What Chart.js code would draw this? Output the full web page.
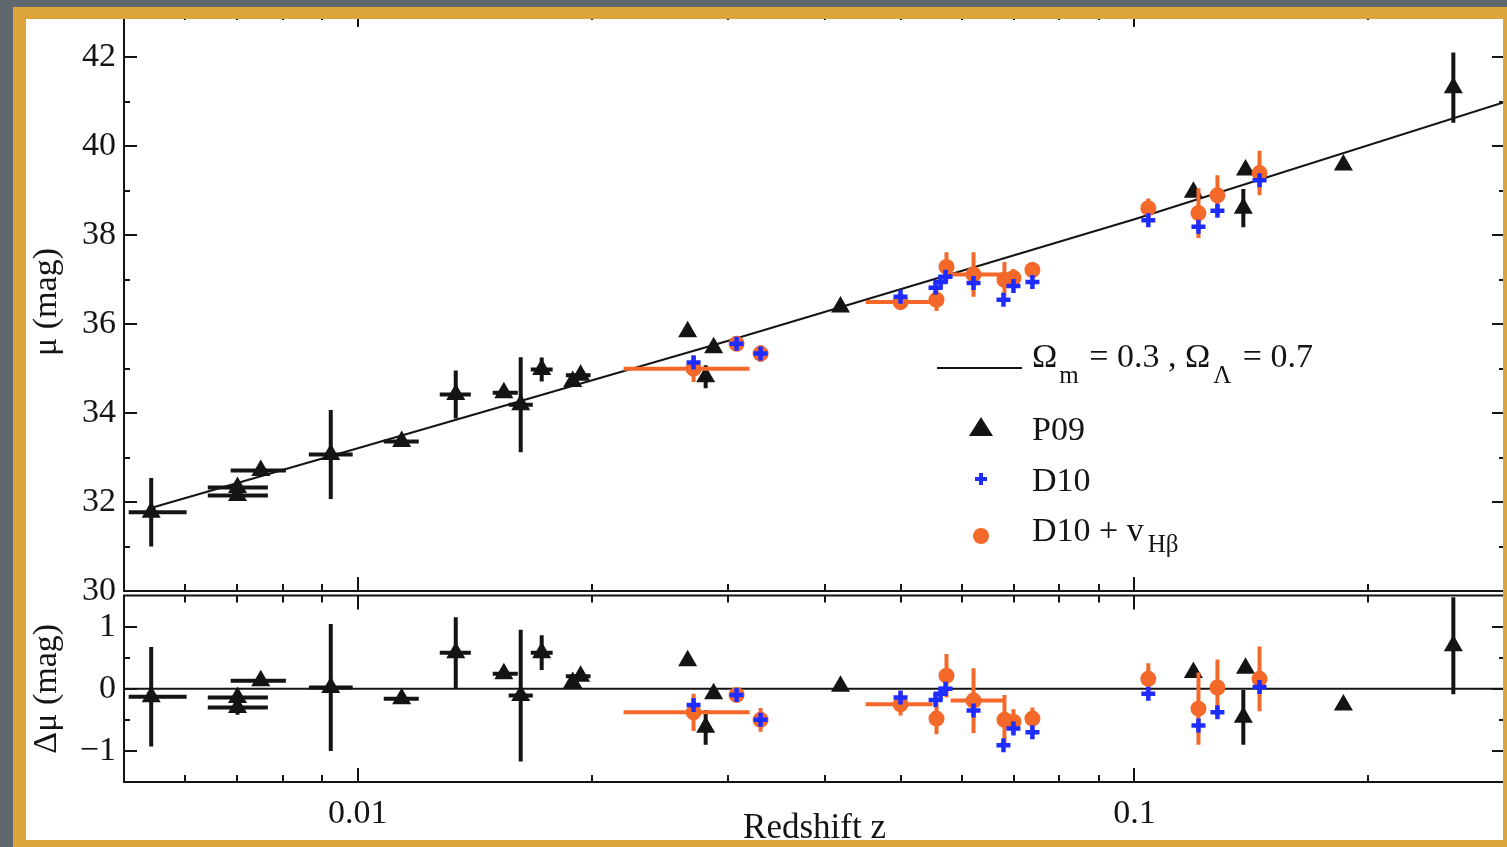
<!DOCTYPE html>
<html lang="en">
<head>
<meta charset="UTF-8">
<title>Hubble diagram - P09 / D10</title>
<style>
    html, body {
        margin: 0;
        padding: 0;
    }
    body {
        width: 1507px;
        height: 847px;
        overflow: hidden;
        position: relative;
        background: #fff;
    }
    canvas {
        position: absolute;
        left: 0;
    }
    #muChart { top: 0; }
    #resChart { top: 584px; }
    /* gold picture frame over the slate background */
    .frame {
        position: absolute;
        left: 13px;
        top: 7px;
        width: 1503px;
        height: 846px;
        box-sizing: border-box;
        border: 13px solid #dba53b;
        border-top-width: 12px;
        box-shadow: 0 0 0 60px #60676f;
        pointer-events: none;
    }
</style>
</head>
<body>
<canvas id="muChart" width="1520" height="610"></canvas>
<canvas id="resChart" width="1520" height="263"></canvas>
<div class="frame"></div>

<script src="https://cdn.jsdelivr.net/npm/chart.js"></script>
<script>
// ---- values ----

// model curve, Omega_m = 0.3, Omega_L = 0.7
const modelZ  = [0.0054, 0.01, 0.03, 0.1, 0.3];
const modelMu = [31.86, 33.21, 35.63, 38.36, 41.0];
const zeroZ   = [0.005, 0.3];
const zeroDmu = [0, 0];

// P09 (black triangles)
const p09Z      = [0.00542, 0.0070, 0.0070, 0.0075, 0.00923, 0.01139, 0.01337, 0.01542, 0.01621, 0.01725, 0.01891, 0.01936, 0.02659, 0.02872, 0.02805, 0.04183, 0.1191, 0.1390, 0.1381, 0.1858, 0.2574];
const p09Mu     = [31.77, 32.33, 32.15, 32.71, 33.07, 33.36, 34.42, 34.46, 34.19, 34.98, 34.71, 34.85, 35.83, 35.47, 34.82, 36.39, 38.97, 39.47, 38.61, 39.58, 41.32];
const p09MuErr  = [0.77, 0, 0.10, 0, 1.00, 0, 0.54, 0, 1.07, 0.27, 0, 0, 0, 0, 0.26, 0, 0, 0, 0.43, 0, 0.79];
const p09Dmu    = [-0.13, -0.14, -0.30, 0.13, 0.02, -0.16, 0.58, 0.24, -0.11, 0.58, 0.10, 0.20, 0.45, -0.08, -0.62, 0.04, 0.26, 0.33, -0.46, -0.26, 0.69];
const p09DmuErr = [0.80, 0, 0.12, 0, 1.02, 0, 0.57, 0, 1.06, 0.28, 0, 0, 0, 0, 0.28, 0, 0, 0, 0.44, 0, 0.78];
const p09ZLo    = [0.00507, 0.00641, 0.00641, 0.00686, 0.00865, 0.0108, 0.01275, 0.01492, 0.01564, 0.0167, null, 0.01853, null, null, null, null, null, null, null, null, null];
const p09ZHi    = [0.00602, 0.00766, 0.00766, 0.00808, 0.00985, 0.01198, 0.01398, 0.01607, 0.0168, 0.01782, null, 0.01994, null, null, null, null, null, null, null, null, null];

// D10 + v_Hbeta (orange circles)
const vZ      = [0.02706, 0.03074, 0.03301, 0.04998, 0.05561, 0.05728, 0.06206, 0.06802, 0.06986, 0.0739, 0.1042, 0.1209, 0.1279, 0.1449];
const vMu     = [35.00, 35.56, 35.34, 36.50, 36.55, 37.29, 37.12, 37.00, 37.04, 37.22, 38.61, 38.50, 38.90, 39.40];
const vMuErr  = [0.30, 0, 0.19, 0.18, 0.25, 0.33, 0.50, 0.40, 0.20, 0.18, 0.22, 0.56, 0.45, 0.50];
const vDmu    = [-0.38, -0.10, -0.50, -0.25, -0.48, 0.21, -0.19, -0.50, -0.53, -0.48, 0.16, -0.32, 0.02, 0.16];
const vDmuErr = [0.30, 0, 0.19, 0.18, 0.25, 0.35, 0.52, 0.40, 0.20, 0.18, 0.25, 0.58, 0.45, 0.52];
const vZLo    = [0.02199, null, null, 0.04507, null, null, 0.05798, null, null, null, null, null, null, null];
const vZHi    = [0.03195, null, null, 0.05495, null, null, 0.06782, null, null, null, null, null, null, null];

// D10 (blue plus)
const dZ   = [0.02706, 0.03074, 0.03301, 0.04998, 0.05545, 0.05628, 0.05712, 0.06206, 0.06782, 0.06986, 0.0739, 0.1042, 0.1209, 0.1279, 0.1449];
const dMu  = [35.14, 35.56, 35.34, 36.62, 36.82, 36.95, 37.07, 36.93, 36.55, 36.86, 36.95, 38.34, 38.19, 38.55, 39.24];
const dDmu = [-0.26, -0.10, -0.50, -0.14, -0.18, -0.08, 0.00, -0.35, -0.91, -0.64, -0.70, -0.08, -0.59, -0.38, 0.03];

// axes
const xMajor       = [0.01, 0.1];
const xMajorLabels = ['0.01', '0.1'];
const xMinor       = [0.006, 0.007, 0.008, 0.009, 0.02, 0.03, 0.04, 0.05, 0.06, 0.07, 0.08, 0.09, 0.2];
const muTicks  = [30, 32, 34, 36, 38, 40, 42];
const muLabels = ['30', '32', '34', '36', '38', '40', '42'];
const muMinor  = [31, 33, 35, 37, 39, 41];
const dmuTicks  = [-1, 0, 1];
const dmuLabels = ['\u22121', '0', '1'];
const dmuMinor  = [-0.5, 0.5];

const INK = '#141414';
const BLUE = '#1f2cff';
const ORANGE = '#f4692a';
const SERIF = '"Liberation Serif", "Times New Roman", serif';

Chart.defaults.font.family = SERIF;
Chart.defaults.color = INK;

// ---- helpers ----
function pts(zs, vs) {
    return zs.map((z, i) => ({ x: z, y: vs[i] }));
}

// vertical error bars as broken line segments
function vBars(zs, vs, es) {
    const out = [];
    zs.forEach((z, i) => {
        if (!es[i]) return;
        out.push({ x: z, y: vs[i] - es[i] }, { x: z, y: vs[i] + es[i] }, { x: z, y: null });
    });
    return out;
}

// horizontal (redshift bin) bars
function hBars(vs, lo, hi) {
    const out = [];
    vs.forEach((v, i) => {
        if (lo[i] == null) return;
        out.push({ x: lo[i], y: v }, { x: hi[i], y: v }, { x: hi[i], y: null });
    });
    return out;
}

function bar(data, color, order) {
    return { data: data, showLine: true, spanGaps: false, borderColor: color, borderWidth: 4,
             borderCapStyle: 'butt', pointRadius: 0, order: order };
}

function panelDatasets(lineZ, lineV, p09V, p09E, vV, vE, dV) {
    return [
        { label: 'D10', data: pts(dZ, dV), pointStyle: 'cross', pointRadius: 7,
          pointBorderColor: BLUE, pointBorderWidth: 4.5, order: 0 },
        { label: 'D10 + vHb', data: pts(vZ, vV), pointStyle: 'circle', pointRadius: 8,
          pointBackgroundColor: ORANGE, pointBorderWidth: 0, order: 1 },
        bar(vBars(vZ, vV, vE), ORANGE, 2),
        bar(hBars(vV, vZLo, vZHi), ORANGE, 2),
        { label: 'P09', data: pts(p09Z, p09V), pointStyle: 'triangle', pointRadius: 11,
          pointBackgroundColor: INK, pointBorderWidth: 0, order: 3 },
        bar(vBars(p09Z, p09V, p09E), INK, 4),
        bar(hBars(p09V, p09ZLo, p09ZHi), INK, 4),
        { label: 'model', data: pts(lineZ, lineV), showLine: true, borderColor: INK, borderWidth: 2,
          pointRadius: 0, order: 5 }
    ];
}

// closed box with inward tick marks on all four sides
const boxTicks = {
    id: 'boxTicks',
    afterDatasetsDraw(chart, args, o) {
        const { ctx, chartArea: a } = chart;
        const xs = chart.scales.x, ys = chart.scales.y;
        ctx.save();
        ctx.strokeStyle = INK;
        ctx.lineWidth = 2;
        ctx.beginPath();
        const tickX = (vals, len) => vals.forEach(v => {
            const px = Math.round(xs.getPixelForValue(v));
            ctx.moveTo(px, a.bottom); ctx.lineTo(px, a.bottom - len);
            ctx.moveTo(px, a.top); ctx.lineTo(px, a.top + len);
        });
        const tickY = (vals, len) => vals.forEach(v => {
            const py = Math.round(ys.getPixelForValue(v));
            ctx.moveTo(a.left, py); ctx.lineTo(a.left + len, py);
            ctx.moveTo(a.right, py); ctx.lineTo(a.right - len, py);
        });
        tickX(xMajor, 14);
        tickX(xMinor, 7);
        tickY(o.major, 13);
        tickY(o.minor, 6);
        ctx.stroke();
        ctx.strokeRect(a.left, a.top, a.right - a.left, a.bottom - a.top);
        ctx.restore();
    }
};

// legend with subscripts
const KEY_X = 937, KEY_Y = 368;
function put(ctx, s, x, y, size) {
    ctx.font = size + 'px ' + SERIF;
    ctx.fillText(s, x, y);
    return x + ctx.measureText(s).width;
}
const keyPlugin = {
    id: 'key',
    afterDraw(chart) {
        const ctx = chart.ctx;
        const tx = KEY_X + 95, mx = KEY_X + 44;
        ctx.save();
        ctx.fillStyle = INK;
        ctx.strokeStyle = INK;
        ctx.textBaseline = 'alphabetic';
        ctx.lineWidth = 2;
        ctx.beginPath();
        ctx.moveTo(KEY_X, KEY_Y);
        ctx.lineTo(KEY_X + 85, KEY_Y);
        ctx.stroke();

        let x = put(ctx, '\u03A9', tx, KEY_Y - 1, 34);
        x = put(ctx, 'm', x + 2, KEY_Y + 15, 25);
        x = put(ctx, ' = 0.3 , \u03A9', x + 2, KEY_Y - 1, 34);
        x = put(ctx, '\u039B', x + 3, KEY_Y + 15, 25);
        put(ctx, ' = 0.7', x + 3, KEY_Y - 1, 34);

        // P09
        let cy = KEY_Y + 59;
        ctx.beginPath();
        ctx.moveTo(mx, cy - 10);
        ctx.lineTo(mx + 12, cy + 9);
        ctx.lineTo(mx - 12, cy + 9);
        ctx.closePath();
        ctx.fill();
        put(ctx, 'P09', tx, KEY_Y + 72, 34);

        // D10
        cy = KEY_Y + 111;
        ctx.strokeStyle = BLUE;
        ctx.lineWidth = 4;
        ctx.beginPath();
        ctx.moveTo(mx - 6, cy); ctx.lineTo(mx + 6, cy);
        ctx.moveTo(mx, cy - 6); ctx.lineTo(mx, cy + 6);
        ctx.stroke();
        put(ctx, 'D10', tx, KEY_Y + 123, 34);

        // D10 + v_Hb
        cy = KEY_Y + 168;
        ctx.fillStyle = ORANGE;
        ctx.beginPath();
        ctx.arc(mx, cy, 8, 0, Math.PI * 2);
        ctx.fill();
        ctx.fillStyle = INK;
        x = put(ctx, 'D10 + v', tx, KEY_Y + 173, 34);
        put(ctx, 'H\u03B2', x + 4, KEY_Y + 184, 25);
        ctx.restore();
    }
};

const noPad = s => { s.paddingTop = 0; s.paddingBottom = 0; s.paddingLeft = 0; s.paddingRight = 0; };

function yScale(min, max, ticks, labels, title) {
    return {
        type: 'linear',
        min: min,
        max: max,
        afterBuildTicks: s => { s.ticks = ticks.map(v => ({ value: v })); },
        afterFit: s => { s.width = 124; noPad(s); },
        grid: { display: false, drawTicks: false },
        border: { display: false },
        ticks: { padding: 8, font: { size: 34 }, color: INK, callback: (v, i) => labels[i] },
        title: { display: true, text: title, color: INK, font: { size: 34 }, padding: { top: 27, bottom: 0 } }
    };
}

// ---- upper panel: distance modulus ----
new Chart(document.getElementById('muChart'), {
    type: 'scatter',
    data: { datasets: panelDatasets(modelZ, modelMu, p09Mu, p09MuErr, vMu, vMuErr, dMu) },
    options: {
        responsive: false,
        animation: false,
        events: [],
        layout: { padding: { left: 0, right: 15, top: 13, bottom: 19 } },
        plugins: {
            legend: { display: false },
            tooltip: { enabled: false },
            boxTicks: { major: muTicks, minor: muMinor }
        },
        scales: {
            x: { type: 'logarithmic', min: 0.005, max: 0.3, display: false },
            y: yScale(30, 43, muTicks, muLabels, '\u03BC (mag)')
        }
    },
    plugins: [boxTicks, keyPlugin]
});

// ---- lower panel: residuals ----
new Chart(document.getElementById('resChart'), {
    type: 'scatter',
    data: { datasets: panelDatasets(zeroZ, zeroDmu, p09Dmu, p09DmuErr, vDmu, vDmuErr, dDmu) },
    options: {
        responsive: false,
        animation: false,
        events: [],
        layout: { padding: { left: 0, right: 15, top: 5, bottom: 0 } },
        plugins: {
            legend: { display: false },
            tooltip: { enabled: false },
            boxTicks: { major: dmuTicks, minor: dmuMinor }
        },
        scales: {
            x: {
                type: 'logarithmic',
                min: 0.005,
                max: 0.3,
                afterBuildTicks: s => { s.ticks = xMajor.map(v => ({ value: v })); },
                afterFit: s => { s.height = 65; noPad(s); },
                grid: { display: false, drawTicks: false },
                border: { display: false },
                ticks: { padding: 12, autoSkip: false, maxRotation: 0, font: { size: 34 }, color: INK,
                         callback: (v, i) => xMajorLabels[i] },
                title: { display: true, text: 'Redshift z', color: INK, font: { size: 35 }, padding: { top: 0, bottom: -3 } }
            },
            y: yScale(-1.5, 1.5, dmuTicks, dmuLabels, '\u0394\u03BC (mag)')
        }
    },
    plugins: [boxTicks]
});
</script>
</body>
</html>
